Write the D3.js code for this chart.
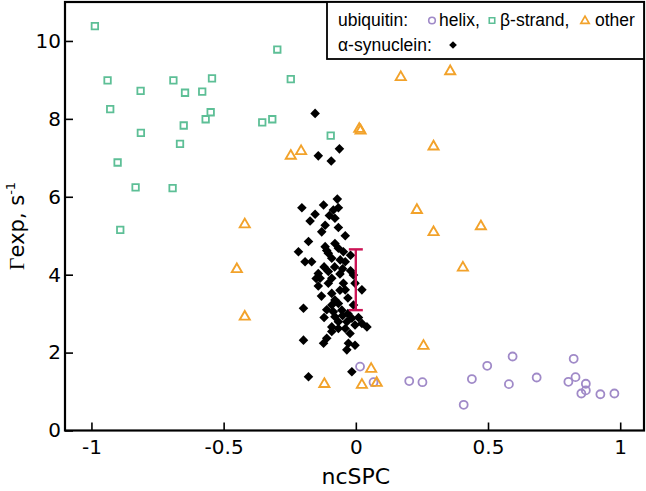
<!DOCTYPE html>
<html>
<head>
<meta charset="utf-8">
<script src="https://cdn.jsdelivr.net/npm/d3@7"></script>
<style>
  html, body { margin: 0; padding: 0; background: #fff; }
  svg { display: block; }
</style>
</head>
<body>
<svg id="chart" width="646" height="491"></svg>
<script>
// ---- data ----
const xTicks = [-1, -0.5, 0, 0.5, 1];
const xTickLabels = ["-1", "-0.5", "0", "0.5", "1"];
const yTicks = [0, 2, 4, 6, 8, 10];
const yTickLabels = ["0", "2", "4", "6", "8", "10"];

// ubiquitin helix (circles)
const helix = [
  [0.016,1.64],[0.067,1.24],[0.202,1.27],[0.252,1.24],[0.408,0.66],[0.439,1.32],
  [0.497,1.66],[0.593,1.90],[0.579,1.19],[0.684,1.36],[0.804,1.25],[0.824,1.84],
  [0.831,1.37],[0.870,1.20],[0.870,1.03],[0.853,0.95],[0.925,0.93],[0.978,0.95]
];
// ubiquitin beta-strand (squares)
const strand = [
  [-0.987,10.38],[-0.939,8.99],[-0.929,8.25],[-0.814,8.72],[-0.813,7.64],[-0.901,6.88],
  [-0.833,6.24],[-0.891,5.15],[-0.690,8.99],[-0.646,8.67],[-0.581,8.70],[-0.544,9.04],
  [-0.549,8.17],[-0.568,7.99],[-0.651,7.83],[-0.665,7.36],[-0.693,6.22],[-0.297,9.78],
  [-0.246,9.02],[-0.354,7.91],[-0.316,7.99],[-0.095,7.57]
];
// ubiquitin other (triangles)
const other = [
  [-0.246,7.05],[-0.207,7.17],[-0.420,5.29],[-0.450,4.14],[-0.420,2.92],[-0.119,1.19],
  [0.023,1.17],[0.058,1.58],[0.079,1.22],[0.256,2.17],[0.170,9.07],[0.357,9.22],
  [0.013,7.74],[0.018,7.70],[0.294,7.29],[0.231,5.66],[0.294,5.09],[0.473,5.24],[0.405,4.18]
];
// alpha-synuclein (diamonds)
const synuclein = [
  [-0.154,8.14],[-0.142,7.05],[-0.093,6.92],[-0.062,7.23],[-0.070,5.94],
  [-0.066,5.72],[-0.085,5.66],[-0.122,5.79],[-0.204,5.72],[-0.154,5.55],[-0.173,5.38],
  [-0.079,5.45],[-0.116,5.27],[-0.066,5.21],[-0.129,5.10],[-0.179,4.85],[-0.217,4.59],
  [-0.116,4.72],[-0.079,4.80],[-0.066,4.68],[-0.047,4.59],[-0.104,4.55],[-0.192,4.33],
  [-0.167,4.33],[-0.091,4.42],[-0.059,4.38],[-0.040,4.33],
  [-0.142,4.03],[-0.104,4.08],[-0.135,3.91],[-0.091,3.91],[-0.104,3.78],[-0.142,3.71],
  [-0.047,3.78],[-0.009,3.99],[-0.003,3.78],[-0.040,3.61],[0.023,3.61],[-0.091,3.52],
  [-0.079,3.35],[-0.066,3.26],[-0.091,3.22],[-0.198,3.14],[-0.053,3.09],[-0.085,3.05],
  [-0.009,3.22],[-0.079,2.92],[-0.066,2.79],[-0.034,2.79],[-0.015,2.88],[-0.003,2.71],
  [0.023,2.75],[0.042,2.66],[-0.091,2.66],
  [-0.091,2.54],[-0.066,2.62],[-0.022,2.49],[-0.040,2.62],[-0.110,2.37],[-0.198,2.32],
  [-0.122,2.24],[-0.028,2.24],[-0.003,2.19],[-0.034,2.07],[-0.179,1.38],[-0.015,1.51],
  [-0.060,4.02],[-0.050,4.15],[-0.020,4.50],[-0.110,4.62],[-0.120,4.20],[-0.030,3.40],
  [-0.110,3.10],[-0.050,2.95],[-0.130,3.45],[-0.060,3.60],[-0.020,4.10],[-0.080,4.20],
  [-0.150,3.90],[-0.040,5.00],[-0.100,5.52],[-0.030,3.00],[0.010,2.90],[-0.120,2.90]
];
// error bar: [x, low, high]
const errorBar = [0, 3.09, 4.65];

// ---- chart ----
const svg = d3.select("#chart");
const x = d3.scaleLinear().domain([-1.1, 1.09]).range([65, 644]);
const y = d3.scaleLinear().domain([0, 11]).range([430.5, 2]);

const tickFont = "DejaVu Sans, sans-serif";

// x axis
const xAxis = d3.axisBottom(x).tickValues(xTicks)
  .tickFormat((d, i) => xTickLabels[i]).tickSize(-8).tickPadding(9);
const gx = svg.append("g").attr("transform", `translate(0,${y(0)})`).call(xAxis);
gx.select(".domain").remove();
gx.selectAll("line").attr("stroke", "#000").attr("stroke-width", 1.6);
gx.selectAll("text").attr("font-family", tickFont).attr("font-size", 20).attr("fill", "#000");

// y axis
const yAxis = d3.axisLeft(y).tickValues(yTicks)
  .tickFormat((d, i) => yTickLabels[i]).tickSize(-8).tickPadding(4);
const gy = svg.append("g").attr("transform", `translate(${x(-1.1)},0)`).call(yAxis);
gy.select(".domain").remove();
gy.selectAll("line").attr("stroke", "#000").attr("stroke-width", 1.6);
gy.selectAll("text").attr("font-family", tickFont).attr("font-size", 20).attr("fill", "#000");

// frame
svg.append("rect")
  .attr("x", x(-1.1)).attr("y", y(11))
  .attr("width", x(1.09) - x(-1.1)).attr("height", y(0) - y(11))
  .attr("fill", "none").attr("stroke", "#000").attr("stroke-width", 2.2);

const cGreen = "#5dbf96", cPurple = "#a08ac8", cOrange = "#f2a22a";

const sqSym = d3.symbol().type(d3.symbolSquare).size(42);
const triSym = d3.symbol().type(d3.symbolTriangle).size(44);
const diaSym = d3.symbol().type(d3.symbolSquare).size(46);

// squares
svg.append("g").selectAll("path").data(strand).join("path")
  .attr("d", sqSym)
  .attr("transform", d => `translate(${x(d[0])},${y(d[1])})`)
  .attr("fill", "none").attr("stroke", cGreen).attr("stroke-width", 1.8);

// circles
svg.append("g").selectAll("circle").data(helix).join("circle")
  .attr("cx", d => x(d[0])).attr("cy", d => y(d[1])).attr("r", 4)
  .attr("fill", "none").attr("stroke", cPurple).attr("stroke-width", 1.8);

// diamonds
svg.append("g").selectAll("path").data(synuclein).join("path")
  .attr("d", diaSym)
  .attr("transform", d => `translate(${x(d[0])},${y(d[1])}) rotate(45)`)
  .attr("fill", "#000");

// triangles
svg.append("g").selectAll("path").data(other).join("path")
  .attr("d", triSym)
  .attr("transform", d => `translate(${x(d[0])},${y(d[1])})`)
  .attr("fill", "none").attr("stroke", cOrange).attr("stroke-width", 1.9)
  .attr("stroke-linejoin", "miter");

// error bar
const eb = svg.append("g").attr("stroke", "#cc1455").attr("stroke-width", 2.4);
eb.append("line").attr("x1", x(errorBar[0])).attr("x2", x(errorBar[0]))
  .attr("y1", y(errorBar[1])).attr("y2", y(errorBar[2]));
[errorBar[1], errorBar[2]].forEach(v => {
  eb.append("line").attr("x1", x(errorBar[0]) - 7).attr("x2", x(errorBar[0]) + 7)
    .attr("y1", y(v)).attr("y2", y(v));
});

// axis titles
svg.append("text").attr("x", x(0)).attr("y", 484)
  .attr("text-anchor", "middle").attr("font-family", tickFont).attr("font-size", 22)
  .text("ncSPC");

const yl = svg.append("text")
  .attr("transform", `translate(24,226) rotate(-90)`)
  .attr("text-anchor", "middle").attr("font-family", tickFont).attr("font-size", 21);
yl.append("tspan").attr("font-family", "Liberation Serif, serif").attr("font-size", 22).text("Γ");
yl.append("tspan").text("exp, s");
yl.append("tspan").attr("font-size", 13).attr("dy", -9).text("-1");

// legend
const lg = svg.append("g");
lg.append("rect").attr("x", 327).attr("y", 2).attr("width", 644 - 327).attr("height", 57)
  .attr("fill", "#fff").attr("stroke", "#000").attr("stroke-width", 1.8);
const lf = "Liberation Sans, Arial, sans-serif";
const lt = (tx, ty, s) => lg.append("text").attr("x", tx).attr("y", ty)
  .attr("font-family", lf).attr("font-size", 17.5).attr("fill", "#000").text(s);
lt(338, 26, "ubiquitin:");
lg.append("circle").attr("cx", 432).attr("cy", 20.5).attr("r", 3.3)
  .attr("fill", "none").attr("stroke", cPurple).attr("stroke-width", 1.6);
lt(439, 26, "helix,");
lg.append("path").attr("d", d3.symbol().type(d3.symbolSquare).size(30))
  .attr("transform", "translate(492,20.5)")
  .attr("fill", "none").attr("stroke", cGreen).attr("stroke-width", 1.6);
lt(500, 26, "β-strand,");
lg.append("path").attr("d", d3.symbol().type(d3.symbolTriangle).size(30))
  .attr("transform", "translate(585,21)")
  .attr("fill", "none").attr("stroke", cOrange).attr("stroke-width", 1.7);
lt(595, 26, "other");
lt(338, 51, "α-synuclein:");
lg.append("path").attr("d", d3.symbol().type(d3.symbolSquare).size(30))
  .attr("transform", "translate(453,45) rotate(45)").attr("fill", "#000");
</script>
</body>
</html>
